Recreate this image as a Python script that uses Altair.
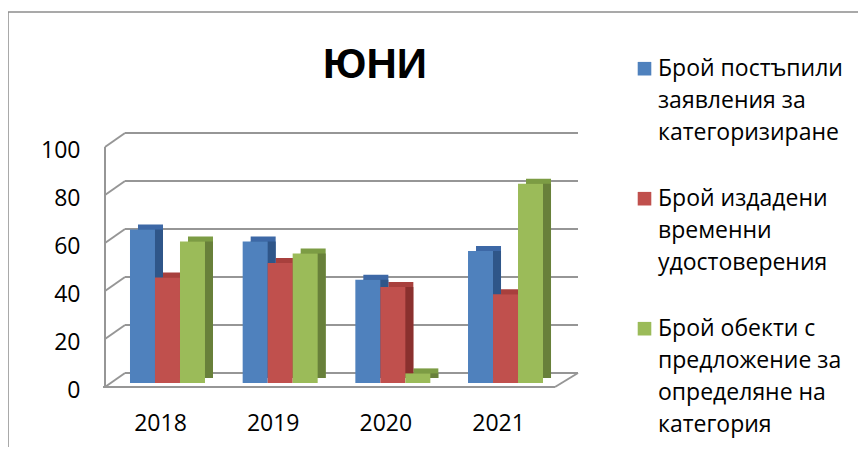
import altair as alt
import pandas as pd

# ---------------- data ----------------
title_text = "ЮНИ"
years = ["2018", "2019", "2020", "2021"]
series = [
    "Брой постъпили\nзаявления за\nкатегоризиране",
    "Брой издадени\nвременни\nудостоверения",
    "Брой обекти с\nпредложение за\nопределяне на\nкатегория",
]
received = [64, 59, 43, 55]
issued = [44, 50, 40, 37]
proposed = [59, 54, 4, 83]
y_ticks = [0, 20, 40, 60, 80, 100]

# ---------------- styles ----------------
front_colors = ["#4F81BD", "#C0504D", "#9BBB59"]
side_colors = ["#2F5689", "#8A302E", "#68803A"]
top_colors = ["#3D68A6", "#A8403D", "#7C9C44"]
grid_color = "#969696"
frame_color = "#8C8C8C"
FONT = "Open Sans"

W, H = 473, 240            # plot area
BACK_DX, BACK_DY = 20, 14  # depth of the back wall
BAR_DX, BAR_DY = 8, 5      # depth of the bars
BASE = 4                   # bars stand a little behind the front edge

rows = []
for s, vals in zip(series, [received, issued, proposed]):
    for yr, v in zip(years, vals):
        rows.append({"year": yr, "series": s, "value": v})
df = pd.DataFrame(rows)
grid_df = pd.DataFrame({"tick": y_ticks})
one = pd.DataFrame({"k": [0]})

yscale = alt.Scale(domain=[0, 100], nice=False, zero=True)
xscale = alt.Scale(paddingInner=0.334, paddingOuter=0.266, align=0.417)

x_axis = alt.Axis(
    title=None, labelFont=FONT, labelFontSize=23, labelColor="black",
    labelAngle=0, labelPadding=25, labelOffset=-7, ticks=False, tickSize=0,
    domain=False, grid=False,
)
y_axis = alt.Axis(
    title=None, values=y_ticks, labelFont=FONT, labelFontSize=23,
    labelColor="black", labelPadding=25, labelOffset=3, ticks=False,
    tickSize=0, domain=False, grid=False,
)

# ---------------- 3D walls and floor ----------------
back_lines = alt.Chart(grid_df).mark_rule(
    yOffset=-BACK_DY, color=grid_color, strokeWidth=2
).encode(
    y=alt.Y("tick:Q", scale=yscale, axis=y_axis),
    x=alt.value(BACK_DX), x2=alt.value(W),
)
diag_lines = alt.Chart(grid_df).mark_rule(
    y2Offset=-BACK_DY, color=grid_color, strokeWidth=2
).encode(
    y=alt.Y("tick:Q", scale=yscale, axis=y_axis),
    y2=alt.Y2("tick"),
    x=alt.value(0), x2=alt.value(BACK_DX),
)
front_edge = alt.Chart(one).mark_rule(color=grid_color, strokeWidth=2).encode(
    y=alt.Y(datum=100, scale=yscale, axis=y_axis),
    y2=alt.Y2(datum=0),
    x=alt.value(0),
)
floor_front = alt.Chart(one).mark_rule(color=grid_color, strokeWidth=2).encode(
    y=alt.Y(datum=0, scale=yscale, axis=y_axis),
    x=alt.value(-2), x2=alt.value(W - 23),
)
floor_side = alt.Chart(one).mark_rule(
    y2Offset=-BACK_DY, color=grid_color, strokeWidth=2
).encode(
    y=alt.Y(datum=0, scale=yscale, axis=y_axis),
    y2=alt.Y2(datum=0),
    x=alt.value(W - 23), x2=alt.value(W),
)


def bars(colors, x0, dy_top, dy_bottom, legend):
    return alt.Chart(df).mark_bar(
        yOffset=-dy_top, y2Offset=-dy_bottom, strokeWidth=0
    ).encode(
        x=alt.X("year:N", sort=years, scale=xscale, axis=x_axis),
        xOffset=alt.XOffset(
            "series:N", sort=series,
            scale=alt.Scale(range=[x0, x0 + 75], paddingInner=0, paddingOuter=0),
        ),
        y=alt.Y("value:Q", scale=yscale, axis=y_axis, stack=None),
        y2=alt.Y2(datum=0),
        color=alt.Color(
            "series:N", sort=series,
            scale=alt.Scale(domain=series, range=colors), legend=legend,
        ),
    )


legend = alt.Legend(
    orient="none", legendX=528, legendY=-83, title=None,
    symbolType="M-1,-2H1V0H-1Z", symbolSize=185, symbolStrokeWidth=0,
    labelFont=FONT, labelFontSize=23, labelColor="black", labelLimit=400,
    labelBaseline="alphabetic", labelExpr="split(datum.label, '\\n')",
    rowPadding=42, labelOffset=2, padding=0,
)

top_faces = bars(top_colors, BAR_DX, BASE + BAR_DY, BASE + BAR_DY, None)
side_faces = bars(side_colors, BAR_DX, BASE, BASE + BAR_DY, None)
front_faces = bars(front_colors, 0, BASE, BASE, legend)

title_mark = alt.Chart(pd.DataFrame({"t": [title_text]})).mark_text(
    font="Liberation Sans", fontSize=42, fontWeight="bold", color="black",
    align="center", baseline="alphabetic",
).encode(text="t:N", x=alt.value(270), y=alt.value(-69))

frame_top = alt.Chart(one).mark_rule(color=frame_color, strokeWidth=1.5).encode(
    x=alt.value(-97), x2=alt.value(760), y=alt.value(-135)
)
frame_left = alt.Chart(one).mark_rule(color=frame_color, strokeWidth=1.5).encode(
    x=alt.value(-97), y=alt.value(-135), y2=alt.value(320)
)

chart = alt.layer(
    back_lines, diag_lines, front_edge, floor_front, floor_side,
    top_faces, side_faces, front_faces, title_mark, frame_top, frame_left,
).resolve_scale(
    color="independent", xOffset="independent"
).properties(
    width=W, height=H,
    autosize=alt.AutoSizeParams(type="none"),
    padding={"left": 97, "top": 139, "right": 280, "bottom": 60},
).configure(
    view=alt.ViewConfig(strokeWidth=0),
    style={"guide-label": {"lineHeight": 32}},
)

chart.save("out.html", embed_options={"renderer": "svg", "actions": False})
